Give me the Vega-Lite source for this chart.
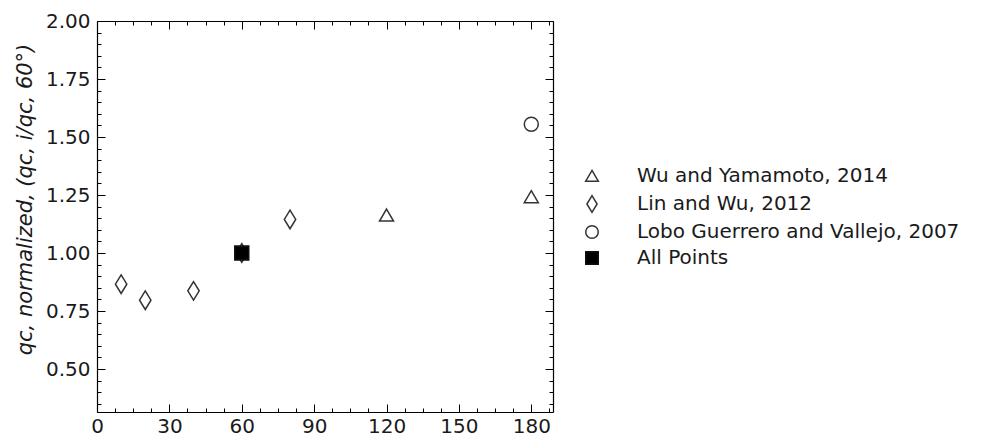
{
  "$schema": "https://vega.github.io/schema/vega-lite/v6.json",
  "width": 456,
  "height": 391,
  "autosize": "none",
  "padding": {"left": 97, "top": 21, "right": 439, "bottom": 27},
  "background": "white",
  "config": {"view": {"stroke": null}, "font": "DejaVu Sans"},
  "data": {
    "values": [
      {"source": "Wu and Yamamoto, 2014", "angle": 120, "qc": 1.163},
      {"source": "Wu and Yamamoto, 2014", "angle": 180, "qc": 1.242},
      {"source": "Lin and Wu, 2012", "angle": 10, "qc": 0.866},
      {"source": "Lin and Wu, 2012", "angle": 20, "qc": 0.797},
      {"source": "Lin and Wu, 2012", "angle": 40, "qc": 0.837},
      {"source": "Lin and Wu, 2012", "angle": 60, "qc": 1.0},
      {"source": "Lin and Wu, 2012", "angle": 80, "qc": 1.145},
      {"source": "Lobo Guerrero and Vallejo, 2007", "angle": 180, "qc": 1.555},
      {"source": "All Points", "angle": 60, "qc": 1.0}
    ]
  },
  "layer": [
    {
      "mark": {"type": "point", "filled": true, "size": 400, "strokeWidth": 1.5, "opacity": 1},
      "encoding": {
        "x": {
          "field": "angle", "type": "quantitative",
          "scale": {"domain": [0, 189], "nice": false, "zero": false},
          "axis": {
            "orient": "bottom",
            "values": [0, 7.5, 15, 22.5, 30, 37.5, 45, 52.5, 60, 67.5, 75, 82.5, 90, 97.5, 105, 112.5, 120, 127.5, 135, 142.5, 150, 157.5, 165, 172.5, 180, 187.5],
            "labelExpr": "datum.value % 30 === 0 ? format(datum.value, 'd') : ''",
            "tickSize": {"condition": {"test": "datum.value % 30 === 0", "value": -8}, "value": -4},
            "labelPadding": 12,
            "labelFontSize": 20,
            "labelColor": "#1a1a1a",
            "labelFlush": false,
            "labelOverlap": false,
            "title": null,
            "grid": false,
            "domainColor": "#000000",
            "domainWidth": 1.2,
            "tickColor": "#000000",
            "tickWidth": 1
          }
        },
        "y": {
          "field": "qc", "type": "quantitative",
          "scale": {"domain": [0.315, 2.0], "nice": false, "zero": false},
          "axis": {
            "orient": "left",
            "values": [0.35, 0.4, 0.45, 0.5, 0.55, 0.6, 0.65, 0.7, 0.75, 0.8, 0.85, 0.9, 0.95, 1.0, 1.05, 1.1, 1.15, 1.2, 1.25, 1.3, 1.35, 1.4, 1.45, 1.5, 1.55, 1.6, 1.65, 1.7, 1.75, 1.8, 1.85, 1.9, 1.95, 2.0],
            "labelExpr": "abs(datum.value*4 - round(datum.value*4)) < 0.001 ? format(datum.value, '.2f') : ''",
            "tickSize": {"condition": {"test": "abs(datum.value*4 - round(datum.value*4)) < 0.001", "value": -8}, "value": -4},
            "labelPadding": 15,
            "labelFontSize": 20,
            "labelColor": "#1a1a1a",
            "labelFlush": false,
            "labelOverlap": false,
            "title": "qc, normalized, (qc, i/qc, 60°)",
            "titleFontStyle": "italic",
            "titleFontWeight": "normal",
            "titleFontSize": 21,
            "titleColor": "#1a1a1a",
            "titleX": -62,
            "titleY": 178,
            "grid": false,
            "domainColor": "#000000",
            "domainWidth": 1.2,
            "tickColor": "#000000",
            "tickWidth": 1
          }
        },
        "shape": {
          "field": "source", "type": "nominal",
          "scale": {
            "domain": ["Wu and Yamamoto, 2014", "Lin and Wu, 2012", "Lobo Guerrero and Vallejo, 2007", "All Points"],
            "range": [
              "M0,-0.62L0.7,0.58L-0.7,0.58Z",
              "M0,-0.93L0.57,0L0,0.93L-0.57,0Z",
              "M0.7,0A0.7,0.7 0 1,1 -0.7,0A0.7,0.7 0 1,1 0.7,0Z",
              "M-0.7,-0.7L0.7,-0.7L0.7,0.7L-0.7,0.7Z"
            ]
          },
          "legend": {
            "title": null, "orient": "none", "legendX": 485, "legendY": 145,
            "labelFontSize": 20, "labelColor": "#1a1a1a", "labelLimit": 500,
            "symbolSize": 320, "symbolStrokeWidth": 1.5,
            "labelOffset": 35, "rowPadding": 6, "padding": 0
          }
        },
        "fill": {
          "field": "source", "type": "nominal",
          "scale": {
            "domain": ["Wu and Yamamoto, 2014", "Lin and Wu, 2012", "Lobo Guerrero and Vallejo, 2007", "All Points"],
            "range": ["transparent", "transparent", "transparent", "#000000"]
          },
          "legend": {
            "title": null, "orient": "none", "legendX": 485, "legendY": 145,
            "labelFontSize": 20, "labelColor": "#1a1a1a", "labelLimit": 500,
            "symbolSize": 320, "symbolStrokeWidth": 1.5,
            "labelOffset": 35, "rowPadding": 6, "padding": 0
          }
        },
        "stroke": {
          "field": "source", "type": "nominal",
          "scale": {
            "domain": ["Wu and Yamamoto, 2014", "Lin and Wu, 2012", "Lobo Guerrero and Vallejo, 2007", "All Points"],
            "range": ["#333333", "#333333", "#333333", "#111111"]
          },
          "legend": {
            "title": null, "orient": "none", "legendX": 485, "legendY": 145,
            "labelFontSize": 20, "labelColor": "#1a1a1a", "labelLimit": 500,
            "symbolSize": 320, "symbolStrokeWidth": 1.5,
            "labelOffset": 35, "rowPadding": 6, "padding": 0
          }
        }
      }
    },
    {
      "mark": {"type": "point", "opacity": 0},
      "encoding": {
        "x": {
          "field": "angle", "type": "quantitative",
          "scale": {"domain": [0, 189], "nice": false, "zero": false},
          "axis": {
            "orient": "top",
            "values": [0, 7.5, 15, 22.5, 30, 37.5, 45, 52.5, 60, 67.5, 75, 82.5, 90, 97.5, 105, 112.5, 120, 127.5, 135, 142.5, 150, 157.5, 165, 172.5, 180, 187.5],
            "labels": false,
            "tickSize": {"condition": {"test": "datum.value % 30 === 0", "value": -8}, "value": -4},
            "title": null,
            "grid": false,
            "domainColor": "#000000",
            "domainWidth": 1.2,
            "tickColor": "#000000",
            "tickWidth": 1
          }
        },
        "y": {
          "field": "qc", "type": "quantitative",
          "scale": {"domain": [0.315, 2.0], "nice": false, "zero": false},
          "axis": {
            "orient": "right",
            "values": [0.35, 0.4, 0.45, 0.5, 0.55, 0.6, 0.65, 0.7, 0.75, 0.8, 0.85, 0.9, 0.95, 1.0, 1.05, 1.1, 1.15, 1.2, 1.25, 1.3, 1.35, 1.4, 1.45, 1.5, 1.55, 1.6, 1.65, 1.7, 1.75, 1.8, 1.85, 1.9, 1.95, 2.0],
            "labels": false,
            "tickSize": {"condition": {"test": "abs(datum.value*4 - round(datum.value*4)) < 0.001", "value": -8}, "value": -4},
            "title": null,
            "grid": false,
            "domainColor": "#000000",
            "domainWidth": 1.2,
            "tickColor": "#000000",
            "tickWidth": 1
          }
        }
      }
    }
  ],
  "resolve": {"axis": {"x": "independent", "y": "independent"}}
}
